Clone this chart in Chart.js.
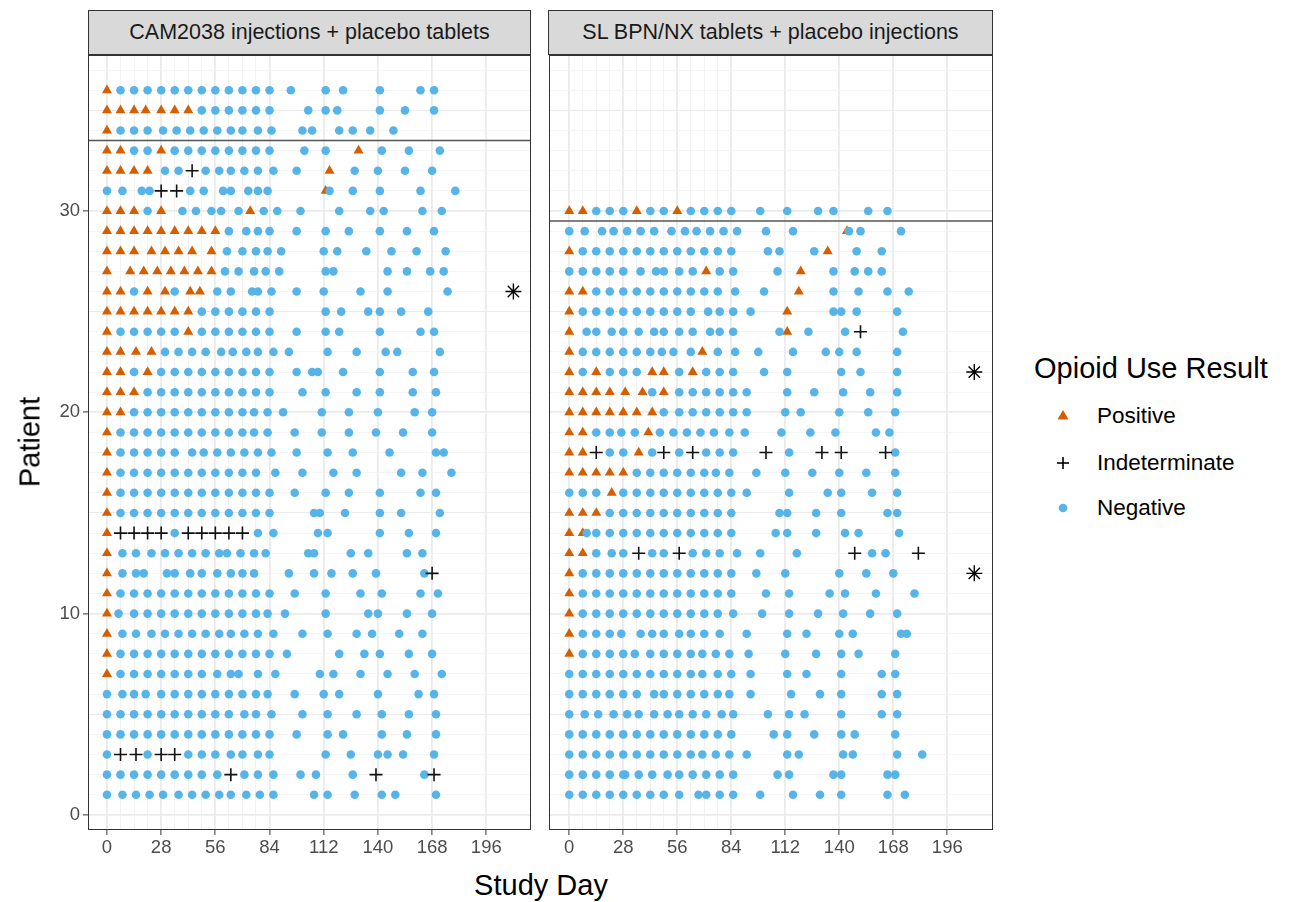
<!DOCTYPE html>
<html><head><meta charset="utf-8">
<script src="https://cdn.jsdelivr.net/npm/chart.js@4.4.1/dist/chart.umd.min.js"></script>
<style>
html,body{margin:0;padding:0;background:#fff;}
body{width:1291px;height:902px;position:relative;overflow:hidden;font-family:"Liberation Sans",Arial,sans-serif;}
canvas{position:absolute;}
.strip{position:absolute;top:10px;height:45px;box-sizing:border-box;background:#D9D9D9;border:1px solid #333;
  display:flex;align-items:center;justify-content:center;font-size:21.5px;color:#1A1A1A;white-space:nowrap;}
.title{position:absolute;font-size:29px;color:#000;white-space:nowrap;}
.leg{position:absolute;font-size:22.5px;color:#000;white-space:nowrap;}
</style></head><body>
<div class="strip" id="s1" style="left:88px;width:443px;"></div>
<div class="strip" id="s2" style="left:548px;width:445px;"></div>
<canvas id="c1" width="545" height="822" style="left:0;top:45px;"></canvas>
<canvas id="c2" width="465" height="822" style="left:540px;top:45px;"></canvas>
<div class="title" id="ytitle" style="left:30px;top:442px;transform:translate(-50%,-50%) rotate(-90deg);"></div>
<div class="title" id="xtitle" style="left:541px;top:885px;transform:translate(-50%,-50%);"></div>
<div class="title" id="legtitle" style="left:1034px;top:368px;transform:translateY(-50%);"></div>
<svg style="position:absolute;left:1050px;top:400px;" width="30" height="125">
  <polygon points="13,10 18.5,19.5 7.5,19.5" fill="#D55E00"/>
  <line x1="7" y1="63" x2="19" y2="63" stroke="#000" stroke-width="1.6"/>
  <line x1="13" y1="57" x2="13" y2="69" stroke="#000" stroke-width="1.6"/>
  <circle cx="13" cy="108" r="4.3" fill="#56B4E9"/>
</svg>
<div class="leg" id="l1" style="left:1097px;top:416px;transform:translateY(-50%);"></div>
<div class="leg" id="l2" style="left:1097px;top:463px;transform:translateY(-50%);"></div>
<div class="leg" id="l3" style="left:1097px;top:508px;transform:translateY(-50%);"></div>
<script>
// ---------- text ----------
const panelTitles = ["CAM2038 injections + placebo tablets", "SL BPN/NX tablets + placebo injections"];
const xAxisTitle = "Study Day";
const yAxisTitle = "Patient";
const legendTitle = "Opioid Use Result";
const legendLabels = ["Positive", "Indeterminate", "Negative"];
const xTickLabels = [0, 28, 56, 84, 112, 140, 168, 196];
const yTickLabels = [0, 10, 20, 30];
const weeklyGridDays = [0, 7, 14, 21, 28, 35, 42, 49, 56, 63, 70, 77, 84];

// ---------- CAM2038 panel: [patient, [study days]] ----------
const camPositive = [
 [36,[0]],[35,[0,7,14,20,28,35,42]],[34,[0]],[33,[0,7,28,130]],[32,[0,7,14,21,115]],[31,[113]],
 [30,[0,7,14,28,74]],[29,[0,7,14,21,28,35,42,49,56]],[28,[0,7,14,23,30,37,44,54]],
 [27,[0,12,19,26,33,40,47,54]],[26,[0,7,21,30,43,48]],[25,[0,7,14,21,28,35,42]],[24,[0,42]],
 [23,[0,7,15,23]],[22,[0,7,21]],[21,[0,7,14]],[20,[0,7]],[19,[0]],[18,[0]],[17,[0]],[16,[0]],
 [15,[0]],[14,[0]],[13,[0]],[12,[0]],[11,[0]],[10,[0]],[9,[0]],[8,[0]],[7,[0]]
];
const camIndeterminate = [
 [32,[44]],[31,[28,36]],[14,[7,14,21,28,42,49,56,63,70]],[12,[168]],[3,[7,15,28,35]],[2,[64,139,169]]
];
const camNegative = [
 [36,[7,14,21,28,35,42,49,56,63,70,77,84,95,113,122,141,162,169]],
 [35,[49,56,63,70,77,84,104,113,119,141,154,169]],
 [34,[7,14,21,29,36,43,50,57,64,70,78,85,101,106,120,127,136,148]],
 [33,[14,21,35,42,49,56,63,70,77,84,102,113,142,156,172]],
 [32,[30,37,51,58,64,71,78,86,98,128,140,154,168]],
 [31,[0,8,18,22,43,50,60,64,73,78,83,115,127,141,162,180]],
 [30,[21,39,46,54,59,68,81,88,100,120,136,143,163,173]],
 [29,[63,72,78,84,98,113,125,141,155,169]],
 [28,[62,70,77,83,90,112,119,134,147,160,175]],
 [27,[61,68,76,82,89,113,117,145,155,167,174]],
 [26,[14,35,57,64,75,78,85,98,112,131,145,176]],
 [25,[49,56,63,70,77,84,113,121,135,141,152,166]],
 [24,[7,14,21,28,35,49,56,63,70,77,84,98,113,120,141,162,169]],
 [23,[30,37,44,51,59,65,72,78,86,94,114,129,144,150,172]],
 [22,[14,28,35,42,49,56,63,70,77,84,98,106,109,122,141,158,169]],
 [21,[21,28,35,42,49,56,63,70,77,84,101,113,129,141,158,170]],
 [20,[14,21,28,35,42,49,56,63,70,76,83,91,111,125,140,159,168]],
 [19,[7,14,21,28,35,42,49,56,63,70,76,83,97,111,125,139,153,168]],
 [18,[7,14,21,28,35,44,50,57,64,71,78,85,98,114,127,146,170,174]],
 [17,[7,14,21,28,35,42,49,56,63,70,77,87,101,117,129,152,163,178]],
 [16,[7,14,21,28,35,42,49,56,63,70,77,84,97,113,125,141,162,170]],
 [15,[7,14,21,28,35,42,49,56,63,70,77,84,107,110,123,141,152,172]],
 [14,[35,78,86,109,114,141,156,170]],
 [13,[8,15,23,30,37,44,51,58,62,69,76,82,104,107,126,135,155,163]],
 [12,[8,15,19,31,35,43,49,57,64,70,76,94,107,116,127,139,164]],
 [11,[7,14,21,28,35,42,49,56,63,70,77,84,97,113,131,142,162,171]],
 [10,[6,14,21,28,35,42,49,56,63,70,77,83,92,113,135,140,155,168]],
 [9,[8,15,23,30,37,44,51,58,64,71,78,86,101,114,129,137,151,163]],
 [8,[7,14,21,28,35,42,49,56,63,70,77,84,93,120,133,141,156,168]],
 [7,[7,14,21,28,35,42,49,57,64,68,78,87,110,117,131,145,159,173]],
 [6,[0,8,14,20,28,35,42,49,56,63,70,77,83,97,112,120,140,161,169]],
 [5,[0,7,14,21,28,35,42,49,56,63,71,77,85,101,114,129,142,156,170]],
 [4,[0,7,14,21,28,35,42,49,56,63,70,77,84,98,114,122,142,155,170]],
 [3,[0,21,42,49,56,64,70,78,84,113,126,140,145,153,169]],
 [2,[0,7,14,21,28,35,42,49,57,71,78,86,100,108,127,164]],
 [1,[0,8,15,22,29,37,44,51,58,64,72,79,86,107,114,128,142,149,170]]
];
const camAsterisk = [[26,[210]]];
const camDivider = 33.5;

// ---------- SL BPN/NX panel ----------
const slPositive = [
 [30,[0,7,35,56]],[29,[144]],[28,[0,134]],[27,[71,120]],[26,[0,7,119]],[25,[0,113]],[24,[0,113]],
 [23,[0,69]],[22,[0,14,43,49,64]],[21,[0,7,14,21,29,38,49]],[20,[0,7,14,21,28,35,43]],[19,[0,7,41]],
 [18,[0,7,36]],[17,[0,7,14,21,28]],[16,[22]],[15,[0,7,14]],[14,[0,7]],[13,[0,7]],[12,[0]],
 [11,[0]],[10,[0]],[9,[0]],[8,[0]]
];
const slIndeterminate = [
 [24,[151]],[18,[14,49,64,102,131,141,164]],[13,[36,57,148,181]]
];
const slNegative = [
 [30,[14,21,28,42,49,63,70,77,84,99,113,129,137,155,165]],
 [29,[0,8,17,23,30,37,44,53,60,66,73,80,87,102,116,145,151,172]],
 [28,[7,14,21,28,35,42,49,56,63,70,77,84,103,109,127,149,162]],
 [27,[0,7,14,21,28,37,45,49,57,64,78,85,108,137,148,155,162]],
 [26,[14,21,28,35,42,49,56,63,70,77,86,101,137,150,165,176]],
 [25,[7,14,21,28,35,42,49,56,63,72,78,85,94,137,141,149,170]],
 [24,[9,14,22,28,36,44,49,57,64,73,78,85,109,124,143,173]],
 [23,[7,14,21,28,35,42,48,54,63,77,86,98,116,133,140,149,170]],
 [22,[7,21,28,35,57,71,78,85,101,113,141,151,170]],
 [21,[43,57,64,71,78,85,92,113,127,142,156,170]],
 [20,[49,57,64,71,78,85,92,112,120,140,155,169]],
 [19,[14,21,27,34,47,54,61,68,75,83,91,110,125,138,159,166]],
 [18,[21,28,43,57,71,78,85,114,169]],
 [17,[35,42,49,56,63,70,76,83,97,112,126,140,154,169]],
 [16,[0,7,14,28,35,42,49,56,63,70,77,84,92,114,134,141,157,170]],
 [15,[21,28,35,42,49,56,63,70,77,84,109,113,128,141,165,170]],
 [14,[9,14,21,28,35,42,49,56,63,70,77,84,107,113,128,143,150,171]],
 [13,[14,22,28,43,49,64,71,78,87,99,118,157,164]],
 [12,[7,14,21,28,35,42,49,56,63,70,77,84,97,112,140,154,168]],
 [11,[7,14,21,28,35,42,49,56,63,70,77,84,102,114,135,143,159,179]],
 [10,[7,14,21,28,35,42,49,56,63,70,77,85,100,114,129,142,156,170]],
 [9,[7,14,21,27,37,43,49,57,63,70,78,92,113,123,140,147,172,175]],
 [8,[7,14,21,28,34,42,49,56,63,69,76,83,93,112,128,141,150,169]],
 [7,[0,7,14,21,28,35,42,49,56,63,69,77,84,94,113,123,141,162,169]],
 [6,[0,7,14,21,28,35,44,49,56,63,70,77,83,94,115,130,141,162,170]],
 [5,[0,8,15,23,30,36,44,51,57,64,71,79,85,103,114,122,141,162,170]],
 [4,[0,7,14,21,28,35,42,49,56,63,70,77,84,106,113,127,141,148,169]],
 [3,[0,7,14,21,28,35,42,49,56,63,69,76,83,92,113,119,142,147,170,183]],
 [2,[0,7,14,21,28,29,36,43,51,57,64,71,78,85,108,114,137,141,165,169]],
 [1,[0,7,14,21,28,35,42,49,57,67,71,78,85,99,116,130,141,165,174]]
];
const slAsterisk = [[22,[210]],[12,[210]]];
const slDivider = 29.5;

// ---------- build ----------
document.getElementById('s1').textContent = panelTitles[0];
document.getElementById('s2').textContent = panelTitles[1];
document.getElementById('xtitle').textContent = xAxisTitle;
document.getElementById('ytitle').textContent = yAxisTitle;
document.getElementById('legtitle').textContent = legendTitle;
['l1','l2','l3'].forEach((id,i)=>document.getElementById(id).textContent = legendLabels[i]);

const FONT = '"Liberation Sans", Arial, sans-serif';
const ORANGE = '#D55E00', BLUE = '#56B4E9';
const Y_MIN = -0.75, Y_MAX = 37.75;
const TICK_FONT = {size:18.5, family:FONT};

function toPoints(rows){
  const pts = [];
  rows.forEach(([p, days]) => days.forEach(d => pts.push({x:d, y:p})));
  return pts;
}
const xGridValues = Array.from(new Set([...weeklyGridDays, ...xTickLabels])).sort((a,b)=>a-b);
const yGridValues = Array.from({length:38}, (_,i)=>i);

const borderPlugin = {
  id:'panelBorder',
  afterDatasetsDraw(chart){
    const {ctx, chartArea:a} = chart;
    ctx.save(); ctx.strokeStyle = '#333'; ctx.lineWidth = 1;
    ctx.strokeRect(Math.round(a.left)+0.5, Math.round(a.top)+0.5, Math.round(a.right-a.left)-1, Math.round(a.bottom-a.top)-1);
    ctx.restore();
  }
};

function zeroPad(s){ s.paddingTop = 0; s.paddingBottom = 0; s.paddingLeft = 0; s.paddingRight = 0; }

function makePanel(id, pos, ind, neg, ast, divider, xMin, xMax, yWidth, padRight, showY){
  return new Chart(document.getElementById(id), {
    type:'scatter',
    data:{datasets:[
      {label:'Asterisk', data:toPoints(ast), pointStyle:'star', pointRadius:8, borderColor:'#000', borderWidth:1.4, backgroundColor:'#000', order:0},
      {label:legendLabels[1], data:toPoints(ind), pointStyle:'cross', pointRadius:6.5, borderColor:'#111', borderWidth:1.6, order:1},
      {label:legendLabels[2], data:toPoints(neg), pointStyle:'circle', pointRadius:4.3, backgroundColor:BLUE, borderWidth:0, order:2},
      {label:legendLabels[0], data:toPoints(pos), pointStyle:'triangle', pointRadius:5.8, backgroundColor:ORANGE, borderWidth:0, order:3},
      {label:'Divider', type:'line', data:[{x:xMin,y:divider},{x:xMax,y:divider}], borderColor:'#555', borderWidth:1.4, pointRadius:0, order:4}
    ]},
    options:{
      responsive:false, animation:false, events:[],
      layout:{padding:{top:10, right:padRight, bottom:0, left:0}},
      plugins:{legend:{display:false}, tooltip:{enabled:false}},
      scales:{
        x:{type:'linear', min:xMin, max:xMax,
          afterBuildTicks(s){ s.ticks = xGridValues.map(v=>({value:v})); },
          afterFit(s){ s.height = 37; zeroPad(s); },
          border:{display:false},
          grid:{
            color:c=>(c.tick && c.tick.value%28===0) ? '#EBEBEB' : '#F0F0F0',
            lineWidth:c=>(c.tick && c.tick.value%28===0) ? 1.8 : 0.9,
            tickColor:c=>(c.tick && c.tick.value%28===0) ? '#333' : 'rgba(0,0,0,0)',
            tickWidth:1, tickLength:5
          },
          ticks:{autoSkip:false, maxRotation:0, padding:2, color:'#4D4D4D', font:TICK_FONT,
            callback:v=> xTickLabels.includes(v) ? String(v) : ''}
        },
        y:{type:'linear', min:Y_MIN, max:Y_MAX,
          afterBuildTicks(s){ s.ticks = yGridValues.map(v=>({value:v})); },
          afterFit(s){ s.width = yWidth; zeroPad(s); },
          border:{display:false},
          grid:{
            color:c=>(c.tick && c.tick.value%5===0) ? '#EBEBEB' : '#F2F2F2',
            lineWidth:c=>(c.tick && c.tick.value%10===0) ? 1.8 : ((c.tick && c.tick.value%5===0) ? 1.1 : 0.8),
            tickColor:c=>(showY && c.tick && yTickLabels.includes(c.tick.value)) ? '#333' : 'rgba(0,0,0,0)',
            tickWidth:1, tickLength:5
          },
          ticks:{display:showY, autoSkip:false, padding:3, color:'#4D4D4D', font:TICK_FONT,
            callback:v=> yTickLabels.includes(v) ? String(v) : ''}
        }
      }
    },
    plugins:[borderPlugin]
  });
}

makePanel('c1', camPositive, camIndeterminate, camNegative, camAsterisk, camDivider, -9.8, 219.1, 88, 14, true);
makePanel('c2', slPositive, slIndeterminate, slNegative, slAsterisk, slDivider, -10.3, 219.7, 8, 12, false);
</script>
</body></html>
